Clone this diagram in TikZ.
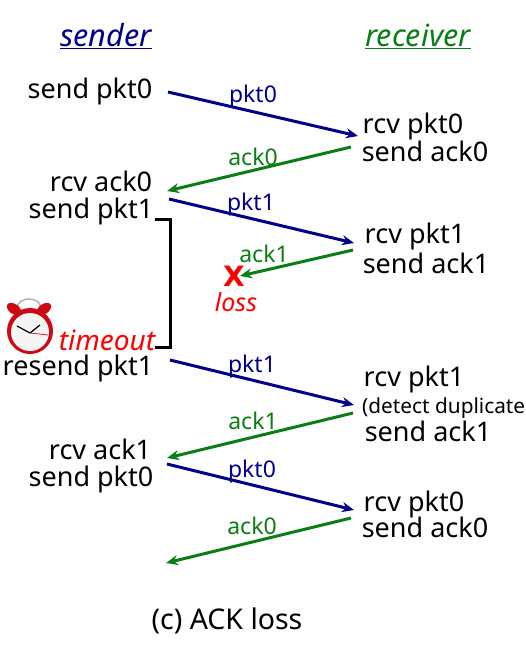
\documentclass[tikz,border=0pt]{standalone}
\usepackage{fontspec}
\setmainfont{Noto Sans}
\newfontfamily\xfont{DejaVu Sans Bold}
\usetikzlibrary{arrows.meta}
\definecolor{pblue}{RGB}{0,0,139}
\definecolor{agreen}{RGB}{10,125,20}
\definecolor{clockred}{RGB}{205,10,20}
\tikzset{x=1pt,y=-1pt,
 lbl/.style={inner sep=0pt,font=\fontsize{27}{27}\selectfont},
 pk/.style={inner sep=0pt,font=\fontsize{23}{23}\selectfont,text=pblue},
 ak/.style={inner sep=0pt,font=\fontsize{23}{23}\selectfont,text=agreen},
 pline/.style={draw=pblue,line width=3pt,-{Stealth[length=12pt,width=10pt]}},
 aline/.style={draw=agreen,line width=3pt,-{Stealth[length=12pt,width=10pt]}}}
\begin{document}
\begin{tikzpicture}
\useasboundingbox (0,0) rectangle (525,658);
\node[lbl,text=pblue,font=\fontsize{30.5}{30}\selectfont\itshape] (s) at (106,36) {\underline{sender}};
\node[lbl,text=agreen,font=\fontsize{30.5}{30}\selectfont\itshape] (r) at (418,36) {\underline{receiver}};
\node[lbl] (a1) at (90,91) {send pkt0};
\node[lbl] (a2) at (101,181) {rcv ack0};
\node[lbl] (a3) at (91,211) {send pkt1};
\node[lbl] (a4) at (78,368) {resend pkt1};
\node[lbl] (a5) at (100,449) {rcv ack1};
\node[lbl] (a6) at (91,479) {send pkt0};
\node[lbl] (b1) at (413,126) {rcv pkt0};
\node[lbl] (b2) at (425,151) {send ack0};
\node[lbl] (b3) at (415,236) {rcv pkt1};
\node[lbl] (b4) at (426,263) {send ack1};
\node[lbl] (b5) at (414,379) {rcv pkt1};
\node[lbl,font=\fontsize{20.8}{22}\selectfont,anchor=west] (b6) at (362,408) {(detect duplicate};
\node[lbl] (b7) at (428,431) {send ack1};
\node[lbl] (b8) at (414,504) {rcv pkt0};
\node[lbl] (b9) at (425,527) {send ack0};
\node[lbl,font=\fontsize{28.5}{28}\selectfont] (cap) at (227,621) {(c) ACK loss};
\node[lbl,text=red,font=\fontsize{28}{28}\selectfont\itshape] (to) at (107,340) {timeout};
\node[lbl,text=red,font=\fontsize{25}{25}\selectfont\itshape] (ls) at (236,302) {loss};
\node[lbl,text=red,font=\fontsize{28}{28}\xfont] (x) at (234,276) {X};
\coordinate (p1s) at (168,92); \coordinate (p1e) at (358,136);
\coordinate (k1s) at (351,147); \coordinate (k1e) at (167,191);
\coordinate (p2s) at (169,199); \coordinate (p2e) at (354,243);
\coordinate (k2s) at (353,250); \coordinate (k2e) at (240,276);
\coordinate (p3s) at (170,360); \coordinate (p3e) at (354,405);
\coordinate (k3s) at (353,413); \coordinate (k3e) at (167,458);
\coordinate (p4s) at (167,464); \coordinate (p4e) at (354,510);
\coordinate (k4s) at (351,518); \coordinate (k4e) at (166,563);
\draw[pline] (p1s) -- (p1e);
\draw[aline] (k1s) -- (k1e);
\draw[pline] (p2s) -- (p2e);
\draw[aline] (k2s) -- (k2e);
\draw[pline] (p3s) -- (p3e);
\draw[aline] (k3s) -- (k3e);
\draw[pline] (p4s) -- (p4e);
\draw[aline] (k4s) -- (k4e);
\node[pk] at (253,97) {pkt0};
\node[ak] at (253,157) {ack0};
\node[pk] at (251,205) {pkt1};
\node[ak] at (264,254) {ack1};
\node[pk] at (252,367) {pkt1};
\node[ak] at (253,421) {ack1};
\node[pk] at (252,472) {pkt0};
\node[ak] at (252,526) {ack0};
\coordinate (t1) at (155,219); \coordinate (t2) at (170,219); \coordinate (t3) at (170,347); \coordinate (t4) at (155,347);
\draw[black,line width=3pt] (t1) -- (t2) -- (t3) -- (t4);
% clock
\draw[gray!60,line width=1.5pt] (17,308) .. controls (18,296) and (40,296) .. (41,308);
\fill[clockred,rotate around={-35:(14,309)}] (14,309) ellipse (8 and 5);
\fill[clockred,rotate around={35:(44,309)}] (44,309) ellipse (8 and 5);
\fill[clockred] (30,331) circle (23);
\fill[white!92!gray] (30,332) circle (19);
\draw[black,line width=1.2pt] (30,333) -- (17,326) (30,333) -- (40,325);
\draw[clockred,line width=.7pt] (30,333) -- (48,335);
\end{tikzpicture}
\end{document}
